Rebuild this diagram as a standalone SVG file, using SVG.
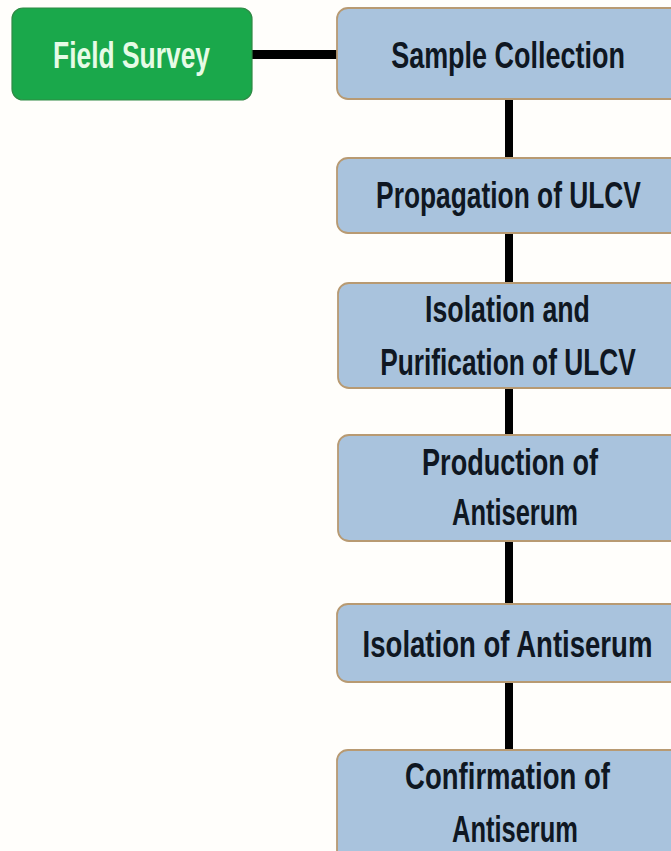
<svg xmlns="http://www.w3.org/2000/svg" width="671" height="851" viewBox="0 0 671 851">
<style>
.bg{fill:#fffefb}
.blue{fill:#a9c3dd;stroke:#b89a72;stroke-width:1.8}
.green{fill:#1aa84b;stroke:#2f8a45;stroke-width:1.2}
.t{font-family:"Liberation Sans",Arial,sans-serif;font-weight:bold;font-size:37px;fill:#0f1722;text-anchor:middle}
.tw{fill:#e6fbe6}
.conn{stroke:#000;stroke-width:8;fill:none}
</style>
<rect class="bg" x="0" y="0" width="671" height="851"/>
<g id="connectors">
<line class="conn" x1="252" y1="54.5" x2="337" y2="54.5" style="stroke-width:9"/>
<line class="conn" x1="509" y1="99" x2="509" y2="158"/>
<line class="conn" x1="509" y1="233" x2="509" y2="283"/>
<line class="conn" x1="509" y1="388" x2="509" y2="435"/>
<line class="conn" x1="509" y1="541" x2="509" y2="604"/>
<line class="conn" x1="509" y1="682" x2="509" y2="750"/>
</g>
<g id="field-survey">
<rect class="green" x="12" y="8" width="240" height="92" rx="11"/>
<text class="t tw" transform="translate(131.5 68) scale(0.714 1)">Field Survey</text>
</g>
<g id="sample-collection">
<path class="blue" d="M672 8 H348 A11 11 0 0 0 337 19 V88 A11 11 0 0 0 348 99 H672 Z"/>
<text class="t" transform="translate(508 68) scale(0.729 1)">Sample Collection</text>
</g>
<g id="propagation">
<path class="blue" d="M672 158 H348 A11 11 0 0 0 337 169 V222 A11 11 0 0 0 348 233 H672 Z"/>
<text class="t" transform="translate(508.5 208) scale(0.712 1)">Propagation of ULCV</text>
</g>
<g id="isolation-purification">
<path class="blue" d="M672 283 H349 A11 11 0 0 0 338 294 V377 A11 11 0 0 0 349 388 H672 Z"/>
<text class="t" transform="translate(507.5 322) scale(0.723 1)">Isolation and</text>
<text class="t" transform="translate(508 375) scale(0.711 1)">Purification of ULCV</text>
</g>
<g id="production">
<path class="blue" d="M672 435 H349 A11 11 0 0 0 338 446 V530 A11 11 0 0 0 349 541 H672 Z"/>
<text class="t" transform="translate(510 475) scale(0.732 1)">Production of</text>
<text class="t" transform="translate(515 525) scale(0.689 1)">Antiserum</text>
</g>
<g id="isolation-antiserum">
<path class="blue" d="M672 604 H348 A11 11 0 0 0 337 615 V671 A11 11 0 0 0 348 682 H672 Z"/>
<text class="t" transform="translate(507.5 657) scale(0.745 1)">Isolation of Antiserum</text>
</g>
<g id="confirmation">
<path class="blue" d="M672 750 H348 A11 11 0 0 0 337 761 V852 H672 Z"/>
<text class="t" transform="translate(507.5 789) scale(0.744 1)">Confirmation of</text>
<text class="t" transform="translate(515 842) scale(0.689 1)">Antiserum</text>
</g>
</svg>
